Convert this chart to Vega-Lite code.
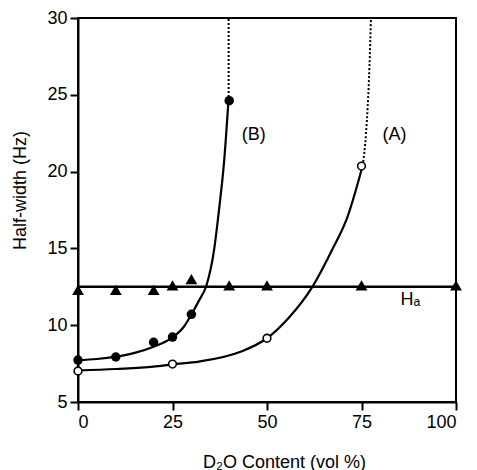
{
  "$schema": "https://vega.github.io/schema/vega-lite/v6.json",
  "width": 378,
  "height": 384,
  "autosize": {"type": "none"},
  "padding": {"left": 78, "top": 18, "right": 21, "bottom": 68},
  "background": "white",
  "config": {
    "view": {"stroke": "black", "strokeWidth": 2},
    "font": "Liberation Sans",
    "axis": {
      "grid": false,
      "domainColor": "black",
      "domainWidth": 2,
      "tickColor": "black",
      "tickWidth": 2,
      "tickSize": 8,
      "labelColor": "black",
      "titleColor": "black",
      "labelFont": "Liberation Sans",
      "titleFont": "Liberation Sans",
      "titleFontWeight": "normal",
      "labelFontSize": 18
    }
  },
  "datasets": {
    "solid": [
      {"series": "B", "x": 0, "y": 7.72},
      {"series": "B", "x": 5, "y": 7.8},
      {"series": "B", "x": 10, "y": 7.95},
      {"series": "B", "x": 15, "y": 8.2},
      {"series": "B", "x": 20, "y": 8.6},
      {"series": "B", "x": 25, "y": 9.2},
      {"series": "B", "x": 28, "y": 9.9},
      {"series": "B", "x": 30, "y": 10.7},
      {"series": "B", "x": 32, "y": 11.6},
      {"series": "B", "x": 34, "y": 12.6},
      {"series": "B", "x": 36, "y": 14.9},
      {"series": "B", "x": 37.3, "y": 17.5},
      {"series": "B", "x": 38.7, "y": 20.8},
      {"series": "B", "x": 39.8, "y": 24.6},
      {"series": "A", "x": 0, "y": 7.05},
      {"series": "A", "x": 10, "y": 7.15},
      {"series": "A", "x": 20, "y": 7.3},
      {"series": "A", "x": 25, "y": 7.45},
      {"series": "A", "x": 32, "y": 7.63},
      {"series": "A", "x": 43, "y": 8.27},
      {"series": "A", "x": 50, "y": 9.15},
      {"series": "A", "x": 56, "y": 10.55},
      {"series": "A", "x": 62, "y": 12.5},
      {"series": "A", "x": 67.2, "y": 14.9},
      {"series": "A", "x": 71.3, "y": 17.06},
      {"series": "A", "x": 75.3, "y": 20.38}
    ],
    "dotted": [
      {"series": "B", "x": 39.85, "y": 24.6},
      {"series": "B", "x": 39.85, "y": 30},
      {"series": "A", "x": 75.3, "y": 20.38},
      {"series": "A", "x": 76.2, "y": 22.5},
      {"series": "A", "x": 77.1, "y": 26.8},
      {"series": "A", "x": 77.5, "y": 30}
    ],
    "points": [
      {"group": "B", "x": 0, "y": 7.73},
      {"group": "B", "x": 10, "y": 7.93},
      {"group": "B", "x": 20, "y": 8.89},
      {"group": "B", "x": 25, "y": 9.23},
      {"group": "B", "x": 30, "y": 10.71},
      {"group": "B", "x": 40, "y": 24.62},
      {"group": "A", "x": 0, "y": 7.02},
      {"group": "A", "x": 25, "y": 7.47},
      {"group": "A", "x": 50, "y": 9.15},
      {"group": "A", "x": 75, "y": 20.36},
      {"group": "Ha", "x": 0, "y": 12.3},
      {"group": "Ha", "x": 10, "y": 12.3},
      {"group": "Ha", "x": 20, "y": 12.3},
      {"group": "Ha", "x": 25, "y": 12.6},
      {"group": "Ha", "x": 30, "y": 13.0},
      {"group": "Ha", "x": 40, "y": 12.6},
      {"group": "Ha", "x": 50, "y": 12.6},
      {"group": "Ha", "x": 75, "y": 12.6},
      {"group": "Ha", "x": 100, "y": 12.6}
    ],
    "labels": [
      {"x": 46.5, "y": 22.4, "label": "(B)"},
      {"x": 83.7, "y": 22.4, "label": "(A)"},
      {"x": 87.9, "y": 11.64, "label": "Hₐ"}
    ],
    "hline": [{"y": 12.5}]
  },
  "layer": [
    {
      "data": {"name": "hline"},
      "mark": {"type": "rule", "color": "black", "strokeWidth": 2.5},
      "encoding": {
        "y": {"field": "y", "type": "quantitative", "scale": {"domain": [5, 30], "nice": false, "zero": false}}
      }
    },
    {
      "data": {"name": "solid"},
      "mark": {"type": "line", "color": "black", "strokeWidth": 2.2, "interpolate": "monotone"},
      "encoding": {
        "x": {"field": "x", "type": "quantitative"},
        "y": {"field": "y", "type": "quantitative"},
        "detail": {"field": "series"}
      }
    },
    {
      "data": {"name": "dotted"},
      "mark": {"type": "line", "color": "black", "strokeWidth": 2, "strokeDash": [2, 2], "interpolate": "monotone"},
      "encoding": {
        "x": {"field": "x", "type": "quantitative"},
        "y": {"field": "y", "type": "quantitative"},
        "detail": {"field": "series"}
      }
    },
    {
      "data": {"name": "points"},
      "transform": [{"filter": "datum.group === 'Ha'"}],
      "mark": {"type": "point", "shape": "triangle-up", "filled": true, "color": "black", "opacity": 1, "size": 140},
      "encoding": {
        "x": {"field": "x", "type": "quantitative"},
        "y": {"field": "y", "type": "quantitative"}
      }
    },
    {
      "data": {"name": "points"},
      "transform": [{"filter": "datum.group === 'B'"}],
      "mark": {"type": "point", "shape": "circle", "filled": true, "color": "black", "opacity": 1, "size": 90},
      "encoding": {
        "x": {"field": "x", "type": "quantitative"},
        "y": {"field": "y", "type": "quantitative"}
      }
    },
    {
      "data": {"name": "points"},
      "transform": [{"filter": "datum.group === 'A'"}],
      "mark": {"type": "point", "shape": "circle", "filled": false, "fill": "white", "fillOpacity": 1, "stroke": "black", "strokeWidth": 1.6, "opacity": 1, "size": 60},
      "encoding": {
        "x": {"field": "x", "type": "quantitative"},
        "y": {"field": "y", "type": "quantitative"}
      }
    },
    {
      "data": {"name": "labels"},
      "mark": {"type": "text", "color": "black", "fontSize": 18, "font": "Liberation Sans", "align": "center", "baseline": "middle"},
      "encoding": {
        "x": {"field": "x", "type": "quantitative"},
        "y": {"field": "y", "type": "quantitative"},
        "text": {"field": "label"}
      }
    }
  ],
  "resolve": {"scale": {"x": "shared", "y": "shared"}},
  "encoding": {
    "x": {
      "type": "quantitative",
      "scale": {"domain": [0, 100], "nice": false},
      "axis": {
        "values": [0, 25, 50, 75, 100],
        "title": "D₂O Content (vol %)",
        "titleFontSize": 18,
        "labelPadding": 3,
        "titleX": 206,
        "titleY": 60,
        "titleBaseline": "middle",
        "titleAnchor": "middle"
      }
    },
    "y": {
      "type": "quantitative",
      "scale": {"domain": [5, 30], "nice": false, "zero": false},
      "axis": {
        "values": [5, 10, 15, 20, 25, 30],
        "title": "Half-width (Hz)",
        "titleFontSize": 18,
        "labelPadding": 3,
        "titleX": -58,
        "titleY": 172,
        "titleBaseline": "middle",
        "titleAngle": -90,
        "titleAnchor": "middle"
      }
    }
  }
}
